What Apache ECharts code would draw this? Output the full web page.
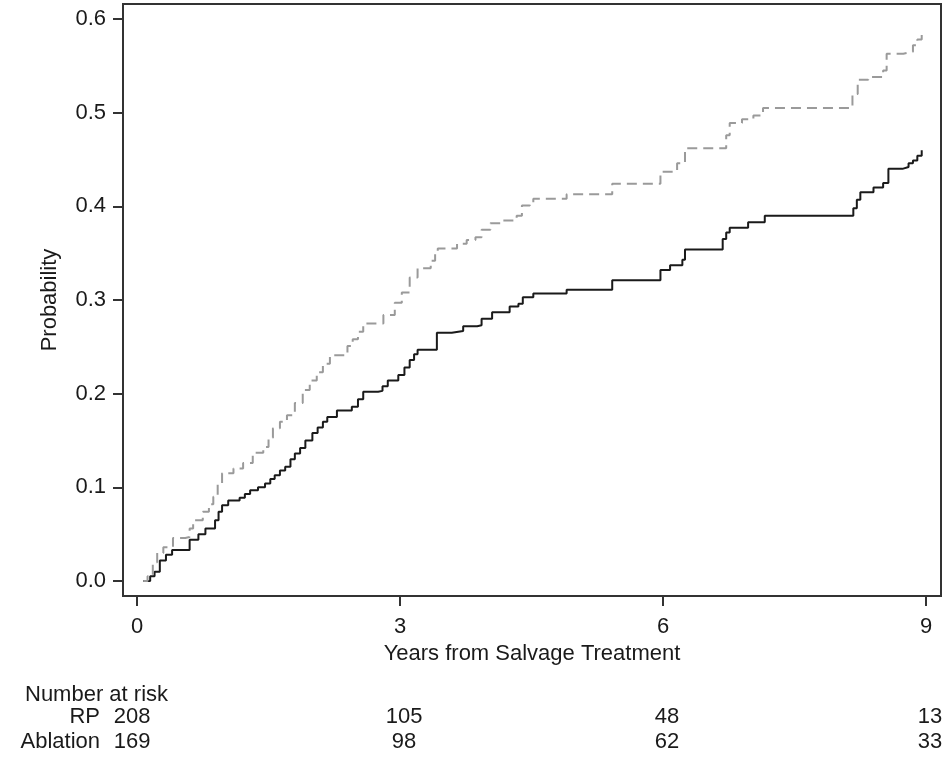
<!DOCTYPE html>
<html>
<head>
<meta charset="utf-8">
<script src="https://cdn.jsdelivr.net/npm/echarts@6/dist/echarts.min.js"></script>
<style>
html,body{margin:0;padding:0;background:#fff;}
#chart{width:948px;height:759px;}
</style>
</head>
<body>
<div id="chart"></div>
<script>
// Tick values
const xTicks = [0, 3, 6, 9];
const yTicks = [0, 0.1, 0.2, 0.3, 0.4, 0.5, 0.6];

// Lower curve (solid black) [years, probability]
const solidCurve = [
  [0.07,0],[0.15,0.005],[0.2,0.01],[0.26,0.022],[0.33,0.028],[0.4,0.033],[0.6,0.044],
  [0.7,0.05],[0.78,0.056],[0.89,0.065],[0.93,0.074],[0.97,0.081],[1.04,0.086],[1.17,0.089],
  [1.23,0.093],[1.29,0.097],[1.38,0.1],[1.46,0.104],[1.52,0.109],[1.57,0.113],[1.63,0.118],
  [1.69,0.122],[1.75,0.13],[1.8,0.136],[1.86,0.142],[1.92,0.15],[2.0,0.158],[2.06,0.164],
  [2.12,0.17],[2.17,0.175],[2.28,0.182],[2.45,0.186],[2.52,0.194],[2.58,0.202],[2.75,0.203],
  [2.8,0.208],[2.86,0.214],[2.98,0.22],[3.05,0.228],[3.11,0.236],[3.16,0.242],[3.2,0.247],
  [3.42,0.265],[3.59,0.267],[3.72,0.272],[3.88,0.273],[3.93,0.28],[4.05,0.287],[4.25,0.293],
  [4.35,0.296],[4.4,0.303],[4.52,0.307],[4.9,0.311],[5.42,0.321],[5.97,0.332],[6.08,0.337],
  [6.22,0.343],[6.25,0.354],[6.68,0.365],[6.72,0.372],[6.76,0.377],[6.97,0.383],[7.16,0.39],
  [8.17,0.398],[8.21,0.407],[8.25,0.415],[8.4,0.42],[8.51,0.425],[8.57,0.44],[8.73,0.442],
  [8.8,0.446],[8.85,0.449],[8.9,0.454],[8.95,0.46]
];

// Upper curve (dashed grey) [years, probability]
const dashedCurve = [
  [0.07,0],[0.12,0.005],[0.18,0.02],[0.23,0.03],[0.3,0.036],[0.41,0.046],[0.55,0.047],
  [0.6,0.056],[0.64,0.065],[0.75,0.074],[0.82,0.082],[0.87,0.09],[0.92,0.103],[0.97,0.115],
  [1.1,0.12],[1.21,0.126],[1.32,0.137],[1.44,0.143],[1.5,0.153],[1.55,0.163],[1.63,0.17],
  [1.71,0.177],[1.8,0.19],[1.89,0.204],[1.97,0.214],[2.05,0.223],[2.12,0.232],[2.2,0.241],
  [2.4,0.251],[2.46,0.258],[2.52,0.266],[2.58,0.275],[2.81,0.284],[2.94,0.297],[3.02,0.308],
  [3.11,0.324],[3.2,0.334],[3.35,0.342],[3.4,0.35],[3.43,0.355],[3.65,0.36],[3.76,0.364],
  [3.86,0.367],[3.93,0.375],[4.03,0.382],[4.17,0.385],[4.33,0.39],[4.39,0.401],[4.48,0.404],
  [4.52,0.408],[4.9,0.413],[5.42,0.424],[5.97,0.437],[6.16,0.446],[6.25,0.462],[6.72,0.476],
  [6.76,0.489],[6.9,0.493],[7.03,0.497],[7.14,0.505],[8.16,0.52],[8.22,0.535],[8.34,0.538],
  [8.51,0.545],[8.55,0.563],[8.74,0.565],[8.85,0.572],[8.9,0.578],[8.95,0.585]
];

// Number at risk table
const riskGroups = ['RP', 'Ablation'];
const riskTimes = [0, 3, 6, 9];
const riskRP = [208, 105, 48, 13];
const riskAblation = [169, 98, 62, 33];

const FONT = 'Liberation Sans, Arial, sans-serif';
const FS = 22;
const TXT = '#1a1a1a';

const riskData = [];
riskTimes.forEach((t, i) => {
  const off = i === 0 ? [-5, 0] : [4, 0];
  riskData.push({value: [t, riskGroups[0], riskRP[i]], label: {offset: off}});
  riskData.push({value: [t, riskGroups[1], riskAblation[i]], label: {offset: off}});
});

const chart = echarts.init(document.getElementById('chart'), null, {renderer: 'canvas'});
chart.setOption({
  animation: false,
  backgroundColor: '#fff',
  title: {
    text: 'Number at risk',
    left: 20, top: 679,
    textStyle: {fontFamily: FONT, fontSize: FS, fontWeight: 'normal', color: TXT}
  },
  grid: [
    {left: 123, top: 4, right: 7, bottom: 163, show: true, borderColor: '#333', borderWidth: 2, backgroundColor: 'transparent'},
    {left: 123, top: 704, right: 7, height: 50, show: false}
  ],
  xAxis: [
    {
      type: 'value', gridIndex: 0, min: -0.16, max: 9.17,
      name: 'Years from Salvage Treatment', nameLocation: 'middle', nameGap: 44,
      nameTextStyle: {fontFamily: FONT, fontSize: FS, color: TXT},
      axisLine: {show: false, onZero: false},
      axisTick: {show: true, inside: false, customValues: xTicks, length: 10, lineStyle: {color: '#333', width: 2}},
      axisLabel: {customValues: xTicks, margin: 20, fontFamily: FONT, fontSize: FS, color: TXT},
      splitLine: {show: false}
    },
    {
      type: 'value', gridIndex: 1, min: -0.16, max: 9.17,
      axisLine: {show: false, onZero: false}, axisTick: {show: false}, axisLabel: {show: false}, splitLine: {show: false}
    }
  ],
  yAxis: [
    {
      type: 'value', gridIndex: 0, min: -0.016, max: 0.616,
      name: 'Probability', nameLocation: 'middle', nameGap: 62,
      nameTextStyle: {fontFamily: FONT, fontSize: FS, color: TXT},
      axisLine: {show: false, onZero: false},
      axisTick: {show: true, inside: false, customValues: yTicks, length: 10, lineStyle: {color: '#333', width: 2}},
      axisLabel: {customValues: yTicks, margin: 17, fontFamily: FONT, fontSize: FS, color: TXT,
        formatter: v => v.toFixed(1)},
      splitLine: {show: false}
    },
    {
      type: 'category', gridIndex: 1, data: riskGroups, inverse: true,
      axisLine: {show: false, onZero: false}, axisTick: {show: false}, splitLine: {show: false},
      axisLabel: {interval: 0, margin: 23, fontFamily: FONT, fontSize: FS, color: TXT}
    }
  ],
  series: [
    {
      name: 'RP', type: 'line', step: 'end', xAxisIndex: 0, yAxisIndex: 0,
      data: solidCurve, showSymbol: false, symbol: 'none',
      lineStyle: {color: '#1a1a1a', width: 2}
    },
    {
      name: 'Ablation', type: 'line', step: 'end', xAxisIndex: 0, yAxisIndex: 0,
      data: dashedCurve, showSymbol: false, symbol: 'none',
      lineStyle: {color: '#9a9a9a', width: 2, type: [10, 6]}
    },
    {
      type: 'scatter', xAxisIndex: 1, yAxisIndex: 1, symbolSize: 0,
      itemStyle: {opacity: 1},
      data: riskData,
      label: {show: true, position: 'inside', formatter: p => p.value[2],
        fontFamily: FONT, fontSize: FS, color: TXT, opacity: 1},
      silent: true
    }
  ]
});
</script>
</body>
</html>
